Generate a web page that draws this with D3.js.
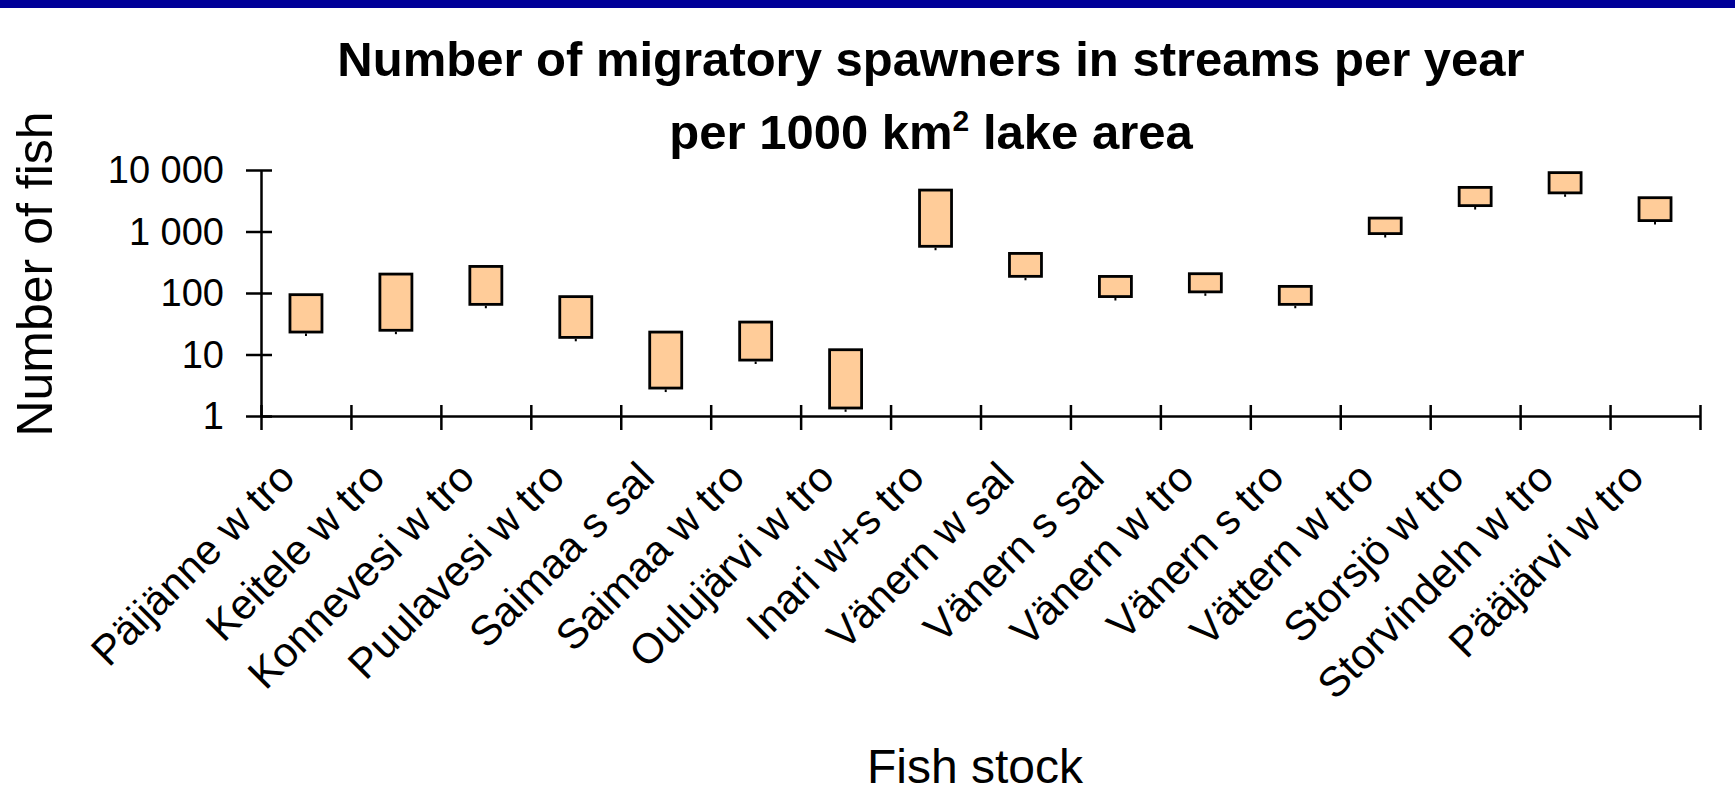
<!DOCTYPE html>
<html>
<head>
<meta charset="utf-8">
<script src="https://cdn.jsdelivr.net/npm/d3@7"></script>
<style>
body { margin: 0; background: #fff; overflow: hidden; }
svg text { font-family: Arial, "Liberation Sans", sans-serif; fill: #000; }
</style>
</head>
<body>
<script>
// categories (fish stocks)
var stocks = ["Päijänne w tro", "Keitele w tro", "Konnevesi w tro", "Puulavesi w tro",
    "Saimaa s sal", "Saimaa w tro", "Oulujärvi w tro", "Inari w+s tro",
    "Vänern w sal", "Vänern s sal", "Vänern w tro", "Vänern s tro",
    "Vättern w tro", "Storsjö w tro", "Storvindeln w tro", "Pääjärvi w tro"];

// top of each box (high estimate), bottom of box, and the small stub below it
var highValues = [99, 214, 285, 92, 24.4, 35.5, 12.6, 4970, 464, 196, 217, 135, 1741, 5495, 9550, 3735];
var lowValues = [22, 23.5, 62, 18, 2.7, 7.7, 1.28, 545, 177, 83, 99, 62, 877, 2500, 4030, 1427];
var minValues = [20, 21.4, 56.5, 16.4, 2.45, 7, 1.17, 496, 161, 75.5, 90, 56.5, 798, 2275, 3670, 1300];

// y axis ticks
var yTicks = [1, 10, 100, 1000, 10000];
var yTickLabels = ["1", "10", "100", "1 000", "10 000"];

function draw() {
    var width = 1735, height = 802;
    var plotLeft = 261, plotRight = 1700, plotTop = 170, plotBottom = 416;

    var svg = d3.select("body").append("svg")
        .attr("width", width)
        .attr("height", height);

    // dark blue strip at the top of the slide
    svg.append("rect")
        .attr("x", 0).attr("y", 0)
        .attr("width", width).attr("height", 8)
        .attr("fill", "#000099");

    // scales
    var xScale = d3.scaleBand()
        .domain(stocks)
        .range([plotLeft, plotRight])
        .padding(0);

    var xEdges = d3.scaleLinear()
        .domain([0, stocks.length])
        .range([plotLeft, plotRight]);

    var yScale = d3.scaleLog()
        .domain([1, 10000])
        .range([plotBottom, plotTop]);

    // title
    var title = svg.append("text")
        .attr("text-anchor", "middle")
        .style("font-size", "49px")
        .style("font-weight", "bold");
    title.append("tspan")
        .attr("x", 931).attr("y", 76)
        .text("Number of migratory spawners in streams per year");
    var line2 = title.append("tspan")
        .attr("x", 931).attr("y", 149);
    line2.append("tspan").text("per 1000 km");
    line2.append("tspan").attr("dy", -18).style("font-size", "30px").text("2");
    line2.append("tspan").attr("dy", 18).text(" lake area");

    // y axis
    var yAxis = d3.axisLeft(yScale)
        .tickValues(yTicks)
        .tickFormat(function (d, i) { return yTickLabels[i]; })
        .tickSize(15)
        .tickSizeOuter(0)
        .tickPadding(22);

    var gy = svg.append("g")
        .attr("transform", "translate(" + plotLeft + ",0)")
        .call(yAxis);
    gy.select(".domain").attr("stroke", "#000").attr("stroke-width", 2.5);
    gy.selectAll(".tick line").attr("x1", 11).attr("stroke", "#000").attr("stroke-width", 2.5);
    gy.selectAll(".tick text")
        .attr("dy", "0.34em")
        .style("font-size", "38px")
        .style("font-family", "Arial, 'Liberation Sans', sans-serif");

    // x axis, ticks between categories
    var xAxis = d3.axisBottom(xEdges)
        .tickValues(d3.range(stocks.length + 1))
        .tickFormat("")
        .tickSize(14)
        .tickSizeOuter(0);

    var gx = svg.append("g")
        .attr("transform", "translate(0," + plotBottom + ")")
        .call(xAxis);
    gx.select(".domain").attr("stroke", "#000").attr("stroke-width", 2.5);
    gx.selectAll(".tick line").attr("y1", -11).attr("stroke", "#000").attr("stroke-width", 2.5);

    // category labels
    svg.append("g").selectAll("text")
        .data(stocks)
        .enter()
        .append("text")
        .attr("text-anchor", "end")
        .style("font-size", "42px")
        .attr("transform", function (d) {
            var cx = xScale(d) + xScale.bandwidth() / 2 - 9;
            return "translate(" + cx + ",480) rotate(-45)";
        })
        .text(function (d) { return d; });

    // axis titles
    svg.append("text")
        .attr("text-anchor", "middle")
        .style("font-size", "50px")
        .attr("transform", "translate(52,274) rotate(-90)")
        .text("Number of fish");

    svg.append("text")
        .attr("text-anchor", "middle")
        .attr("x", 975)
        .attr("y", 783)
        .style("font-size", "48px")
        .text("Fish stock");

    // boxes
    var boxW = 32;
    var marks = svg.append("g");

    marks.selectAll("line.stub")
        .data(stocks)
        .enter()
        .append("line")
        .attr("class", "stub")
        .attr("x1", function (d) { return xScale(d) + xScale.bandwidth() / 2; })
        .attr("x2", function (d) { return xScale(d) + xScale.bandwidth() / 2; })
        .attr("y1", function (d, i) { return yScale(lowValues[i]); })
        .attr("y2", function (d, i) { return yScale(minValues[i]); })
        .attr("stroke", "#000")
        .attr("stroke-width", 2);

    marks.selectAll("rect.box")
        .data(stocks)
        .enter()
        .append("rect")
        .attr("class", "box")
        .attr("x", function (d) { return xScale(d) + xScale.bandwidth() / 2 - boxW / 2; })
        .attr("width", boxW)
        .attr("y", function (d, i) { return yScale(highValues[i]) + 1.4; })
        .attr("height", function (d, i) { return yScale(lowValues[i]) - yScale(highValues[i]) - 2.8; })
        .attr("fill", "#FFCC99")
        .attr("stroke", "#000")
        .attr("stroke-width", 2.8);
}

draw();
</script>
</body>
</html>
